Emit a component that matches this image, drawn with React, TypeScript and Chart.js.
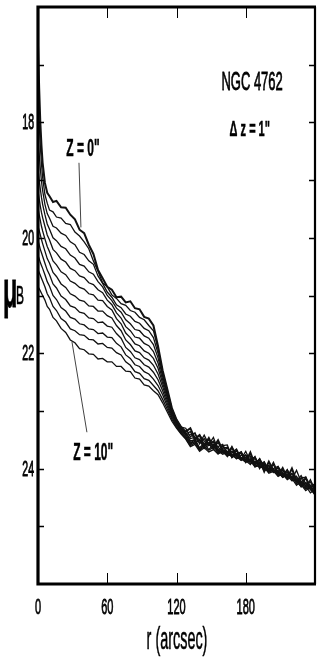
import { useEffect, useRef } from 'react';
import { Chart, registerables } from 'chart.js';

Chart.register(...registerables);

// radius along the major axis (arcsec)
const radii = [
  0, 1, 2, 3, 4, 6, 8, 10, 13, 16, 20, 24, 28, 32, 36, 40, 44, 48, 52, 56, 60, 64, 68, 72, 76, 80, 84, 88,
  92, 96, 100, 104, 108, 112, 116, 120, 124,
  128, 132, 136, 140, 144, 148, 152, 156, 160, 164, 168, 172, 176, 180, 184, 188, 192, 196, 200, 204, 208,
  212, 216, 220, 224, 228, 232, 236, 240,
];

// surface brightness mu_B (mag/arcsec^2) for cuts at z = 0 ... 10 arcsec
const muZ0 = [
  16.66, 17.4, 18.0, 18.4, 18.7, 19.05, 19.22, 19.28, 19.38, 19.36, 19.47, 19.48, 19.6, 19.68, 19.86, 19.92, 20.12, 20.28,
  20.56, 20.7, 20.85, 20.9, 21.03, 21.02, 21.12, 21.1, 21.22, 21.24, 21.37, 21.4, 21.52, 21.88, 22.3, 22.62, 22.95, 23.15, 23.28,
  23.36, 23.3, 23.48, 23.42, 23.6, 23.47, 23.63, 23.51, 23.68, 23.78, 23.63, 23.79, 23.72, 23.88, 23.72, 23.93, 23.84, 24.05,
  23.88, 24.03, 24.12, 23.99, 24.16, 24.0, 24.21, 24.28, 24.16, 24.32, 24.27,
];
const muZ1 = [
  17.6, 18.0, 18.4, 18.72, 18.95, 19.25, 19.4, 19.52, 19.55, 19.64, 19.66, 19.75, 19.77, 19.9, 19.97, 20.07, 20.19, 20.4,
  20.58, 20.78, 20.85, 20.99, 21.05, 21.14, 21.17, 21.26, 21.29, 21.38, 21.42, 21.52, 21.61, 21.92, 22.32, 22.64, 22.96, 23.16, 23.28,
  23.3, 23.45, 23.38, 23.56, 23.42, 23.58, 23.46, 23.68, 23.6, 23.59, 23.8, 23.68, 23.83, 23.7, 23.88, 23.79, 24.0, 23.89,
  24.04, 23.89, 24.07, 24.14, 24.02, 24.18, 24.03, 24.23, 24.33, 24.19, 24.37,
];
const muZ2 = [
  18.3, 18.55, 18.8, 19.02, 19.18, 19.42, 19.58, 19.66, 19.8, 19.83, 19.92, 19.96, 20.07, 20.12, 20.25, 20.29, 20.4, 20.46,
  20.66, 20.79, 20.94, 21.03, 21.16, 21.21, 21.32, 21.36, 21.45, 21.48, 21.57, 21.61, 21.73, 22.0, 22.36, 22.67, 22.97, 23.16, 23.29,
  23.4, 23.36, 23.51, 23.42, 23.52, 23.6, 23.52, 23.63, 23.71, 23.64, 23.72, 23.66, 23.82, 23.8, 23.78, 23.94, 23.83, 23.96,
  23.94, 24.06, 23.97, 24.07, 24.17, 24.08, 24.21, 24.12, 24.27, 24.35, 24.26,
];
const muZ3 = [
  18.8, 19.0, 19.15, 19.3, 19.42, 19.6, 19.76, 19.85, 20.0, 20.05, 20.15, 20.19, 20.3, 20.35, 20.46, 20.49, 20.59, 20.63,
  20.76, 20.85, 21.0, 21.09, 21.22, 21.29, 21.42, 21.49, 21.59, 21.61, 21.7, 21.74, 21.85, 22.08, 22.4, 22.7, 22.99, 23.17, 23.3,
  23.42, 23.41, 23.39, 23.57, 23.48, 23.58, 23.65, 23.55, 23.67, 23.73, 23.63, 23.78, 23.72, 23.87, 23.84, 23.8, 23.94, 23.88,
  24.04, 24.0, 23.96, 24.14, 24.06, 24.15, 24.22, 24.16, 24.15, 24.37, 24.33,
];
const muZ4 = [
  19.2, 19.32, 19.45, 19.56, 19.65, 19.8, 19.95, 20.04, 20.2, 20.26, 20.37, 20.42, 20.53, 20.57, 20.66, 20.69, 20.78, 20.81,
  20.9, 20.95, 21.08, 21.16, 21.3, 21.39, 21.54, 21.61, 21.72, 21.74, 21.83, 21.87, 21.97, 22.17, 22.46, 22.73, 23.01, 23.18, 23.31,
  23.39, 23.48, 23.46, 23.49, 23.59, 23.5, 23.62, 23.62, 23.58, 23.74, 23.73, 23.69, 23.85, 23.76, 23.88, 23.88, 23.85, 24.0,
  23.95, 24.04, 23.99, 24.11, 24.02, 24.19, 24.13, 24.28, 24.26, 24.23, 24.38,
];
const muZ5 = [
  19.5, 19.6, 19.7, 19.8, 19.88, 20.02, 20.15, 20.24, 20.4, 20.47, 20.59, 20.64, 20.75, 20.79, 20.86, 20.89, 20.97, 20.99,
  21.08, 21.09, 21.19, 21.25, 21.4, 21.49, 21.65, 21.73, 21.84, 21.87, 21.96, 22.0, 22.09, 22.26, 22.52, 22.77, 23.03, 23.2, 23.32,
  23.37, 23.52, 23.5, 23.51, 23.63, 23.55, 23.54, 23.7, 23.65, 23.63, 23.81, 23.75, 23.71, 23.86, 23.93, 23.82, 23.97, 23.94,
  24.03, 23.93, 24.11, 24.03, 24.14, 24.13, 24.26, 24.16, 24.31, 24.29, 24.41,
];
const muZ6 = [
  19.8, 19.87, 19.95, 20.03, 20.1, 20.23, 20.36, 20.44, 20.6, 20.67, 20.8, 20.86, 20.97, 21.01, 21.08, 21.1, 21.18, 21.19,
  21.27, 21.27, 21.35, 21.39, 21.52, 21.61, 21.77, 21.85, 21.96, 21.99, 22.08, 22.12, 22.21, 22.36, 22.58, 22.82, 23.06, 23.22, 23.33,
  23.41, 23.54, 23.56, 23.5, 23.65, 23.59, 23.59, 23.73, 23.61, 23.71, 23.75, 23.83, 23.77, 23.77, 23.91, 23.9, 23.91, 24.04,
  23.99, 24.05, 24.03, 24.15, 24.1, 24.09, 24.2, 24.32, 24.24, 24.33, 24.43,
];
const muZ7 = [
  20.05, 20.12, 20.2, 20.26, 20.32, 20.44, 20.56, 20.64, 20.8, 20.87, 21.01, 21.07, 21.18, 21.21, 21.29, 21.31, 21.39, 21.4,
  21.47, 21.46, 21.53, 21.55, 21.66, 21.74, 21.9, 21.97, 22.08, 22.11, 22.2, 22.24, 22.33, 22.46, 22.65, 22.87, 23.09, 23.24, 23.35,
  23.44, 23.56, 23.49, 23.64, 23.56, 23.67, 23.58, 23.68, 23.73, 23.7, 23.77, 23.74, 23.84, 23.83, 23.81, 23.97, 23.94, 23.92,
  24.05, 24.01, 24.11, 24.08, 24.15, 24.16, 24.16, 24.25, 24.35, 24.3, 24.45,
];
const muZ8 = [
  20.3, 20.36, 20.43, 20.48, 20.53, 20.64, 20.76, 20.84, 21.0, 21.07, 21.21, 21.27, 21.38, 21.41, 21.49, 21.51, 21.58, 21.59,
  21.66, 21.65, 21.72, 21.73, 21.83, 21.89, 22.03, 22.09, 22.2, 22.23, 22.32, 22.36, 22.45, 22.56, 22.72, 22.92, 23.12, 23.26, 23.37,
  23.46, 23.58, 23.52, 23.66, 23.59, 23.57, 23.66, 23.75, 23.68, 23.75, 23.7, 23.79, 23.86, 23.81, 23.87, 23.97, 23.89, 23.99,
  23.97, 24.07, 24.06, 24.15, 24.09, 24.17, 24.29, 24.22, 24.3, 24.42, 24.36,
];
const muZ9 = [
  20.55, 20.6, 20.65, 20.7, 20.75, 20.85, 20.97, 21.04, 21.19, 21.26, 21.4, 21.46, 21.58, 21.61, 21.68, 21.69, 21.76, 21.77,
  21.84, 21.83, 21.9, 21.91, 21.99, 22.03, 22.15, 22.21, 22.32, 22.35, 22.44, 22.47, 22.56, 22.65, 22.8, 22.97, 23.15, 23.28, 23.39,
  23.48, 23.6, 23.55, 23.68, 23.62, 23.68, 23.63, 23.69, 23.75, 23.72, 23.8, 23.77, 23.83, 23.89, 23.85, 23.93, 23.98, 23.97,
  24.06, 24.03, 24.13, 24.1, 24.19, 24.14, 24.23, 24.31, 24.25, 24.36, 24.45,
];
const muZ10 = [
  20.85, 20.88, 20.92, 20.96, 21.0, 21.08, 21.19, 21.24, 21.38, 21.44, 21.57, 21.64, 21.77, 21.82, 21.92, 21.94, 22.01, 22.02,
  22.1, 22.09, 22.15, 22.15, 22.23, 22.23, 22.31, 22.32, 22.43, 22.45, 22.55, 22.57, 22.65, 22.72, 22.86, 23.02, 23.18, 23.3, 23.4,
  23.49, 23.62, 23.58, 23.7, 23.64, 23.71, 23.67, 23.74, 23.71, 23.78, 23.76, 23.82, 23.81, 23.88, 23.88, 23.88, 23.97, 23.98,
  24.08, 24.05, 24.04, 24.14, 24.12, 24.21, 24.2, 24.28, 24.38, 24.32, 24.46,
];

const profiles = [muZ0, muZ1, muZ2, muZ3, muZ4, muZ5, muZ6, muZ7, muZ8, muZ9, muZ10];
const zLabels = ['z=0', 'z=1', 'z=2', 'z=3', 'z=4', 'z=5', 'z=6', 'z=7', 'z=8', 'z=9', 'z=10'];

const xTickValues = [0, 60, 120, 180];
const xMinorTicks = [60, 120, 180];
const yTickValues = [18, 20, 22, 24];
const yMinorTicks = [17, 18, 19, 20, 21, 22, 23, 24, 25];

const FONT = '"Liberation Sans", Arial, sans-serif';

function squeezedText(
  ctx: CanvasRenderingContext2D,
  text: string,
  x: number,
  y: number,
  font: string,
  sx: number,
  align: CanvasTextAlign,
  baseline: CanvasTextBaseline,
  weight = 0.5,
) {
  ctx.save();
  ctx.translate(x, y);
  ctx.scale(sx, 1);
  ctx.font = font;
  ctx.fillStyle = '#000';
  ctx.strokeStyle = '#000';
  ctx.lineWidth = weight;
  ctx.textAlign = align;
  ctx.textBaseline = baseline;
  ctx.fillText(text, 0, 0);
  if (weight > 0) ctx.strokeText(text, 0, 0);
  ctx.restore();
}

const framePlugin = {
  id: 'frameAndText',
  afterDraw(chart: any) {
    const { ctx, chartArea, scales } = chart;
    const xs = scales.x;
    const ys = scales.y;
    const { left, right, top, bottom } = chartArea;
    ctx.save();
    ctx.strokeStyle = '#000';
    ctx.lineCap = 'butt';

    // ticks (inward)
    ctx.lineWidth = 1.5;
    yMinorTicks.forEach((v) => {
      const py = Math.round(ys.getPixelForValue(v)) + 0.5;
      ctx.beginPath();
      ctx.moveTo(left, py);
      ctx.lineTo(left + 6, py);
      ctx.moveTo(right, py);
      ctx.lineTo(right - 6, py);
      ctx.stroke();
    });
    ctx.lineWidth = 1;
    xMinorTicks.forEach((v) => {
      const px = Math.round(xs.getPixelForValue(v)) + 0.5;
      ctx.beginPath();
      ctx.moveTo(px, bottom);
      ctx.lineTo(px, bottom - 11);
      ctx.moveTo(px, top);
      ctx.lineTo(px, top + 11);
      ctx.stroke();
    });

    // frame
    ctx.lineWidth = 3.2;
    ctx.beginPath();
    ctx.moveTo(left, top - 1.5);
    ctx.lineTo(left, bottom + 1.5);
    ctx.moveTo(left - 1.5, top);
    ctx.lineTo(right + 1, top);
    ctx.moveTo(left - 1.5, bottom);
    ctx.lineTo(right + 1, bottom);
    ctx.stroke();
    ctx.lineWidth = 2.2;
    ctx.beginPath();
    ctx.moveTo(right, top);
    ctx.lineTo(right, bottom);
    ctx.stroke();

    // tick labels
    yTickValues.forEach((v) => {
      squeezedText(ctx, String(v), left - 4, ys.getPixelForValue(v) + 1, `22px ${FONT}`, 0.48, 'right', 'middle', 0.9);
    });
    xTickValues.forEach((v) => {
      squeezedText(ctx, String(v), xs.getPixelForValue(v), bottom + 24, `22px ${FONT}`, 0.5, 'center', 'middle', 0.8);
    });

    // axis titles
    squeezedText(ctx, 'r (arcsec)', (left + right) / 2 + 0.5, bottom + 56, `32px ${FONT}`, 0.45, 'center', 'middle', 0.6);
    squeezedText(ctx, '\u03bc', 3, ys.getPixelForValue(21.2), `bold 52px ${FONT}`, 0.45, 'left', 'alphabetic', 0.8);
    squeezedText(ctx, 'B', 16, ys.getPixelForValue(21.0) + 8, `25px ${FONT}`, 0.48, 'left', 'alphabetic', 0.6);

    // annotations
    squeezedText(ctx, 'NGC 4762', xs.getPixelForValue(185.5), ys.getPixelForValue(17.32), `26px ${FONT}`, 0.5, 'center', 'middle', 0.8);
    squeezedText(ctx, '\u0394 z = 1"', xs.getPixelForValue(183.5), ys.getPixelForValue(18.13), `bold 22px ${FONT}`, 0.5, 'center', 'middle', 0.5);
    squeezedText(ctx, 'Z = 0"', xs.getPixelForValue(39), ys.getPixelForValue(18.47), `bold 24px ${FONT}`, 0.5, 'center', 'middle', 0.5);
    squeezedText(ctx, 'Z = 10"', xs.getPixelForValue(47.8), ys.getPixelForValue(23.73), `bold 24px ${FONT}`, 0.5, 'center', 'middle', 0.5);

    // leader lines
    ctx.strokeStyle = '#444';
    ctx.lineWidth = 1;
    ctx.beginPath();
    ctx.moveTo(xs.getPixelForValue(35.5), ys.getPixelForValue(18.7));
    ctx.lineTo(xs.getPixelForValue(37.2), ys.getPixelForValue(19.82));
    ctx.moveTo(xs.getPixelForValue(29.4), ys.getPixelForValue(21.8));
    ctx.lineTo(xs.getPixelForValue(42.4), ys.getPixelForValue(23.37));
    ctx.stroke();
    ctx.restore();
  },
};

export default function App() {
  const canvasRef = useRef<HTMLCanvasElement | null>(null);

  useEffect(() => {
    document.body.style.margin = '0';
    const canvas = canvasRef.current;
    if (!canvas) return;
    const datasets = profiles.map((arr, k) => ({
      label: zLabels[k],
      data: radii.map((r, i) => ({ x: r, y: arr[i] })),
      borderColor: '#111',
      borderWidth: k === 0 ? 2.0 : 1.3,
      pointRadius: 0,
      tension: 0,
      fill: false,
    }));
    const chart = new Chart(canvas, {
      type: 'line',
      data: { datasets },
      options: {
        animation: false,
        responsive: false,
        devicePixelRatio: 1,
        layout: { padding: { left: 38, right: 3, top: 7, bottom: 79 } },
        plugins: { legend: { display: false }, tooltip: { enabled: false } },
        scales: {
          x: { type: 'linear', min: 0, max: 240, display: false },
          y: { type: 'linear', min: 16, max: 26, reverse: true, display: false },
        },
      },
      plugins: [framePlugin],
    });
    return () => chart.destroy();
  }, []);

  return (
    <div style={{ width: 318, height: 663, background: '#fff' }}>
      <canvas ref={canvasRef} width={318} height={663} style={{ display: 'block' }} />
    </div>
  );
}
